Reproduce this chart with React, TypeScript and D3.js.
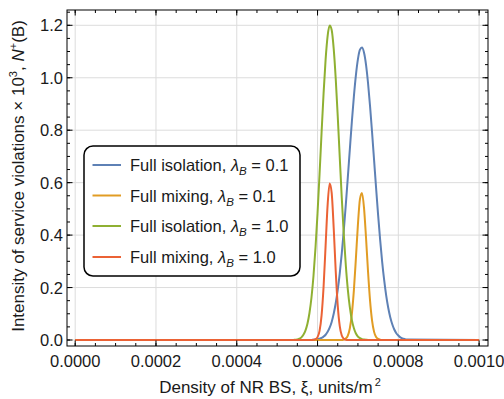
import React from "react";
import * as d3 from "d3";

// Density grid (units/m^2) for the sampled part of the curves
const xGrid = [
  0.00054, 0.000545, 0.00055, 0.000555, 0.00056, 0.000565, 0.00057, 0.000575, 0.00058, 0.000585,
  0.00059, 0.000595, 0.0006, 0.000605, 0.00061, 0.000615, 0.00062, 0.000625, 0.00063, 0.000635,
  0.00064, 0.000645, 0.00065, 0.000655, 0.00066, 0.000665, 0.00067, 0.000675, 0.00068, 0.000685,
  0.00069, 0.000695, 0.0007, 0.000705, 0.00071, 0.000715, 0.00072, 0.000725, 0.00073, 0.000735,
  0.00074, 0.000745, 0.00075, 0.000755, 0.00076, 0.000765, 0.00077, 0.000775, 0.00078, 0.000785,
  0.00079, 0.000795, 0.0008, 0.000805, 0.00081, 0.000815, 0.00082,
];

const isolation01 = [
  0, 0, 0, 0, 0, 0, 0, 0, 0, 0,
  0.001, 0.002, 0.003, 0.005, 0.008, 0.013, 0.02, 0.031, 0.047, 0.069,
  0.1, 0.14, 0.191, 0.254, 0.33, 0.418, 0.516, 0.621, 0.728, 0.833,
  0.929, 1.01, 1.071, 1.107, 1.115, 1.096, 1.05, 0.98, 0.892, 0.792,
  0.686, 0.579, 0.476, 0.382, 0.298, 0.228, 0.169, 0.123, 0.087, 0.06,
  0.04, 0.026, 0.017, 0.01, 0.006, 0.004, 0.002,
];

const mixing01 = [
  0, 0, 0, 0, 0, 0, 0, 0, 0, 0,
  0, 0, 0, 0, 0, 0, 0, 0, 0, 0,
  0, 0, 0, 0, 0, 0.002, 0.006, 0.017, 0.045, 0.1,
  0.19, 0.312, 0.441, 0.537, 0.561, 0.505, 0.391, 0.261, 0.15, 0.074,
  0.031, 0.011, 0.004, 0.001, 0, 0, 0, 0, 0, 0,
  0, 0, 0, 0, 0, 0, 0,
];

const isolation10 = [
  0, 0.001, 0.002, 0.005, 0.01, 0.02, 0.036, 0.062, 0.103, 0.162,
  0.245, 0.353, 0.484, 0.633, 0.791, 0.942, 1.07, 1.16, 1.199, 1.182,
  1.111, 0.997, 0.853, 0.696, 0.542, 0.402, 0.285, 0.192, 0.124, 0.076,
  0.045, 0.025, 0.013, 0.007, 0.003, 0.002, 0.001, 0, 0, 0,
  0, 0, 0, 0, 0, 0, 0, 0, 0, 0,
  0, 0, 0, 0, 0, 0, 0,
];

const mixing10 = [
  0, 0, 0, 0, 0, 0, 0, 0, 0, 0,
  0.001, 0.003, 0.011, 0.035, 0.094, 0.204, 0.361, 0.516, 0.597, 0.561,
  0.427, 0.263, 0.131, 0.053, 0.017, 0.005, 0.001, 0, 0, 0,
  0, 0, 0, 0, 0, 0, 0, 0, 0, 0,
  0, 0, 0, 0, 0, 0, 0, 0, 0, 0,
  0, 0, 0, 0, 0, 0, 0,
];

const xRangeStart = 0;
const xRangeEnd = 0.001;

const seriesNames = ["Full isolation", "Full mixing", "Full isolation", "Full mixing"];
const seriesLambda = ["0.1", "0.1", "1.0", "1.0"];
const seriesColors = ["#5E81B5", "#E19C24", "#8FB032", "#EB6235"];
const seriesValues = [isolation01, mixing01, isolation10, mixing10];

const xTicks = [0, 0.0002, 0.0004, 0.0006, 0.0008, 0.001];
const xTickLabels = ["0.0000", "0.0002", "0.0004", "0.0006", "0.0008", "0.0010"];
const yTicks = [0, 0.2, 0.4, 0.6, 0.8, 1.0, 1.2];
const yTickLabels = ["0.0", "0.2", "0.4", "0.6", "0.8", "1.0", "1.2"];

export default function App() {
  const W = 504;
  const H = 399;
  const frame = { left: 67, right: 488, top: 10, bottom: 346 };
  const x = d3.scaleLinear().domain([0, 0.001]).range([75.2, 479.1]);
  const y = d3.scaleLinear().domain([0, 1.2]).range([340, 25.3]);

  const xMinor = d3.range(0, 0.00101, 0.00005).filter((v) => x(v) >= frame.left && x(v) <= frame.right);
  const yMinor = d3.range(0, 1.3, 0.05).filter((v) => y(v) >= frame.top && y(v) <= frame.bottom);

  const line = d3
    .line<[number, number]>()
    .x((d) => x(d[0]))
    .y((d) => y(d[1]))
    .curve(d3.curveMonotoneX);

  const paths = seriesValues.map((vals) => {
    const pts: [number, number][] = [[xRangeStart, 0]];
    xGrid.forEach((xv, i) => pts.push([xv, vals[i]]));
    pts.push([xRangeEnd, 0]);
    return line(pts) as string;
  });

  const font = "'Liberation Sans', Arial, sans-serif";
  const textColor = "#1a1a1a";
  const gridColor = "#dcdcdc";

  const legend = { x: 84, y: 146, w: 216, h: 130 };
  const legendRowY = [165, 195.5, 226, 257];

  return (
    <svg
      width={W}
      height={H}
      style={{ position: "absolute", left: 0, top: 0, background: "#fff" }}
      fontFamily={font}
    >
      <rect x={0} y={0} width={W} height={H} fill="#fff" />
      {/* grid */}
      {xTicks.map((t, i) => (
        <line key={"gx" + i} x1={x(t)} x2={x(t)} y1={frame.top} y2={frame.bottom} stroke={gridColor} strokeWidth={1} />
      ))}
      {yTicks.map((t, i) => (
        <line key={"gy" + i} x1={frame.left} x2={frame.right} y1={y(t)} y2={y(t)} stroke={gridColor} strokeWidth={1} />
      ))}

      {/* curves */}
      {paths.map((p, i) => (
        <path key={"s" + i} d={p} fill="none" stroke={seriesColors[i]} strokeWidth={2} strokeLinejoin="round" />
      ))}

      {/* frame */}
      <rect
        x={frame.left}
        y={frame.top}
        width={frame.right - frame.left}
        height={frame.bottom - frame.top}
        fill="none"
        stroke="#000"
        strokeWidth={1}
      />
      {/* x ticks */}
      {xMinor.map((t, i) => (
        <g key={"xm" + i}>
          <line x1={x(t)} x2={x(t)} y1={frame.bottom} y2={frame.bottom - 3} stroke="#000" />
          <line x1={x(t)} x2={x(t)} y1={frame.top} y2={frame.top + 3} stroke="#000" />
        </g>
      ))}
      {xTicks.map((t, i) => (
        <g key={"xt" + i}>
          <line x1={x(t)} x2={x(t)} y1={frame.bottom} y2={frame.bottom - 5.5} stroke="#000" />
          <line x1={x(t)} x2={x(t)} y1={frame.top} y2={frame.top + 5.5} stroke="#000" />
          <text x={x(t)} y={366.5} textAnchor="middle" fontSize={16.5} fill={textColor}>
            {xTickLabels[i]}
          </text>
        </g>
      ))}
      {/* y ticks */}
      {yMinor.map((t, i) => (
        <g key={"ym" + i}>
          <line x1={frame.left} x2={frame.left + 3} y1={y(t)} y2={y(t)} stroke="#000" />
          <line x1={frame.right} x2={frame.right - 3} y1={y(t)} y2={y(t)} stroke="#000" />
        </g>
      ))}
      {yTicks.map((t, i) => (
        <g key={"yt" + i}>
          <line x1={frame.left} x2={frame.left + 5.5} y1={y(t)} y2={y(t)} stroke="#000" />
          <line x1={frame.right} x2={frame.right - 5.5} y1={y(t)} y2={y(t)} stroke="#000" />
          <text x={63} y={y(t) + 6} textAnchor="end" fontSize={16.5} fill={textColor}>
            {yTickLabels[i]}
          </text>
        </g>
      ))}

      {/* axis labels */}
      <text x={270} y={393} textAnchor="middle" fontSize={17} fill={textColor}>
        Density of NR BS, ξ, units/m
        <tspan fontSize={11} dy={-7} dx={2}>2</tspan>
      </text>
      <text
        transform="translate(23.5,176) rotate(-90)"
        textAnchor="middle"
        fontSize={17}
        fill={textColor}
      >
        Intensity of service violations × 10
        <tspan fontSize={11} dy={-7}>3</tspan>
        <tspan dy={7}>, </tspan>
        <tspan fontStyle="italic">N</tspan>
        <tspan fontSize={11} dy={-7}>+</tspan>
        <tspan dy={7}>(B)</tspan>
      </text>

      {/* legend */}
      <rect
        x={legend.x}
        y={legend.y}
        width={legend.w}
        height={legend.h}
        rx={9}
        ry={9}
        fill="#fff"
        stroke="#000"
        strokeWidth={1.5}
      />
      {seriesNames.map((name, i) => (
        <g key={"lg" + i}>
          <line x1={92.5} x2={121} y1={legendRowY[i]} y2={legendRowY[i]} stroke={seriesColors[i]} strokeWidth={2} />
          <text x={130} y={legendRowY[i] + 6} fontSize={16.5} fill={textColor}>
            {name + ", "}
            <tspan fontStyle="italic">λ</tspan>
            <tspan fontStyle="italic" fontSize={11.5} dy={4}>B</tspan>
            <tspan dy={-4}>{" = " + seriesLambda[i]}</tspan>
          </text>
        </g>
      ))}
    </svg>
  );
}
